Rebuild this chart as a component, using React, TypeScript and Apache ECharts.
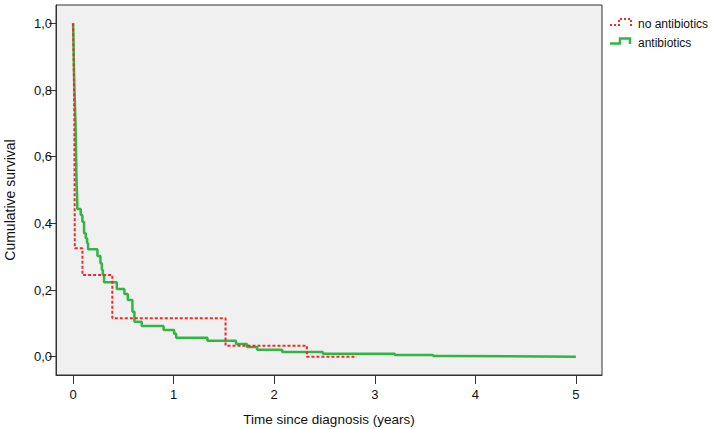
import React, { useEffect, useRef } from "react";
import * as echarts from "echarts";

// Kaplan-Meier steps: time (years) and cumulative survival
const noAbxTime = [0, 0.005, 0.009, 0.012, 0.017, 0.093, 0.39, 1.516, 2.325, 2.82];
const noAbxSurv = [1.0, 0.9, 0.8, 0.72, 0.325, 0.245, 0.115, 0.033, 0.0, 0.0];

const abxTime = [
  0, 0.003, 0.006, 0.009, 0.012, 0.015, 0.018, 0.021, 0.024, 0.027, 0.03, 0.033, 0.036, 0.04,
  0.042, 0.076, 0.092, 0.109, 0.126, 0.139, 0.149, 0.242, 0.272, 0.286, 0.296, 0.308, 0.435,
  0.51, 0.544, 0.59, 0.61, 0.683, 0.9, 1.005, 1.025, 1.336, 1.62, 1.73, 1.83, 2.08, 2.485,
  3.2, 3.58, 3.72, 5.0,
];
const abxSurv = [
  1.0, 0.96, 0.91, 0.86, 0.82, 0.79, 0.76, 0.73, 0.7, 0.65, 0.6, 0.55, 0.51, 0.48,
  0.443, 0.425, 0.405, 0.37, 0.355, 0.34, 0.322, 0.302, 0.28, 0.26, 0.245, 0.223, 0.203,
  0.188, 0.17, 0.135, 0.105, 0.092, 0.08, 0.069, 0.057, 0.048, 0.038, 0.029, 0.021, 0.014, 0.009,
  0.005, 0.002, 0.0, 0.0,
];

const xTicks = [0, 1, 2, 3, 4, 5];
const yTicks = [0, 0.2, 0.4, 0.6, 0.8, 1.0];
const seriesNames = ["no antibiotics", "antibiotics"];

const FONT = "'Liberation Sans', Arial, sans-serif";
const RED = "#ee2b2b";
const GREEN = "#31b546";

export default function App() {
  const ref = useRef<HTMLDivElement>(null);
  useEffect(() => {
    if (!ref.current) return;
    const chart = echarts.init(ref.current, undefined, { renderer: "svg" });
    const toPairs = (t: number[], s: number[]) => t.map((v, i) => [v, s[i]]);
    chart.setOption({
      animation: false,
      backgroundColor: "#ffffff",
      textStyle: { fontFamily: FONT },
      grid: {
        left: 56,
        top: 5,
        right: 111,
        bottom: 54,
        containLabel: false,
        outerBoundsMode: "none",
        show: true,
        backgroundColor: "#f0f0f0",
        borderColor: "#333333",
        borderWidth: 1,
      },
      xAxis: {
        type: "value",
        min: -0.17,
        max: 5.26,
        name: "Time since diagnosis (years)",
        nameLocation: "middle",
        nameGap: 37,
        nameTextStyle: { fontSize: 13.5, color: "#111", fontFamily: FONT },
        axisLine: { show: true, onZero: false, lineStyle: { color: "#333", width: 1 } },
        axisTick: {
          show: true,
          inside: false,
          length: 9,
          customValues: xTicks,
          lineStyle: { color: "#333", width: 1 },
        },
        axisLabel: {
          customValues: xTicks,
          margin: 13,
          fontSize: 13,
          color: "#111",
          fontFamily: FONT,
          formatter: (v: number) => String(Math.round(v)),
        },
        splitLine: { show: false },
      },
      yAxis: {
        type: "value",
        min: -0.055,
        max: 1.055,
        name: "Cumulative survival",
        nameLocation: "middle",
        nameGap: 39,
        nameTextStyle: {
          fontSize: 14,
          color: "#111",
          fontFamily: FONT,
          padding: [0, 20, 0, 0],
        },
        axisLine: { show: true, onZero: false, lineStyle: { color: "#333", width: 1 } },
        axisTick: {
          show: true,
          inside: false,
          length: 7,
          customValues: yTicks,
          lineStyle: { color: "#333", width: 1 },
        },
        axisLabel: {
          customValues: yTicks,
          margin: 4,
          fontSize: 13,
          color: "#111",
          fontFamily: FONT,
          formatter: (v: number) => v.toFixed(1).replace(".", ","),
        },
        splitLine: { show: false },
      },
      series: [
        {
          name: seriesNames[1],
          type: "line",
          step: "end",
          showSymbol: false,
          data: toPairs(abxTime, abxSurv),
          lineStyle: { color: GREEN, width: 2.5 },
          z: 2,
        },
        {
          name: seriesNames[0],
          type: "line",
          step: "end",
          showSymbol: false,
          data: toPairs(noAbxTime, noAbxSurv),
          lineStyle: { color: RED, width: 2, type: [3, 2] },
          z: 3,
        },
      ],
      graphic: [
        {
          type: "polyline",
          shape: { points: [[610, 25], [619, 25], [619, 19], [631, 19], [631, 26]] },
          style: { stroke: RED, lineWidth: 2, lineDash: [2, 2], fill: null },
        },
        {
          type: "text",
          x: 638,
          y: 24,
          style: {
            text: seriesNames[0],
            fontSize: 12,
            fontFamily: FONT,
            fill: "#111",
            verticalAlign: "middle",
            align: "left",
          },
        },
        {
          type: "polyline",
          shape: { points: [[610, 43.5], [620, 43.5], [620, 38.5], [630, 38.5], [630, 44]] },
          style: { stroke: GREEN, lineWidth: 2.5, fill: null },
        },
        {
          type: "text",
          x: 638,
          y: 43,
          style: {
            text: seriesNames[1],
            fontSize: 12,
            fontFamily: FONT,
            fill: "#111",
            verticalAlign: "middle",
            align: "left",
          },
        },
      ],
    });
    return () => chart.dispose();
  }, []);
  return (
    <div
      ref={ref}
      style={{ position: "fixed", left: 0, top: 0, width: 713, height: 429 }}
    />
  );
}
